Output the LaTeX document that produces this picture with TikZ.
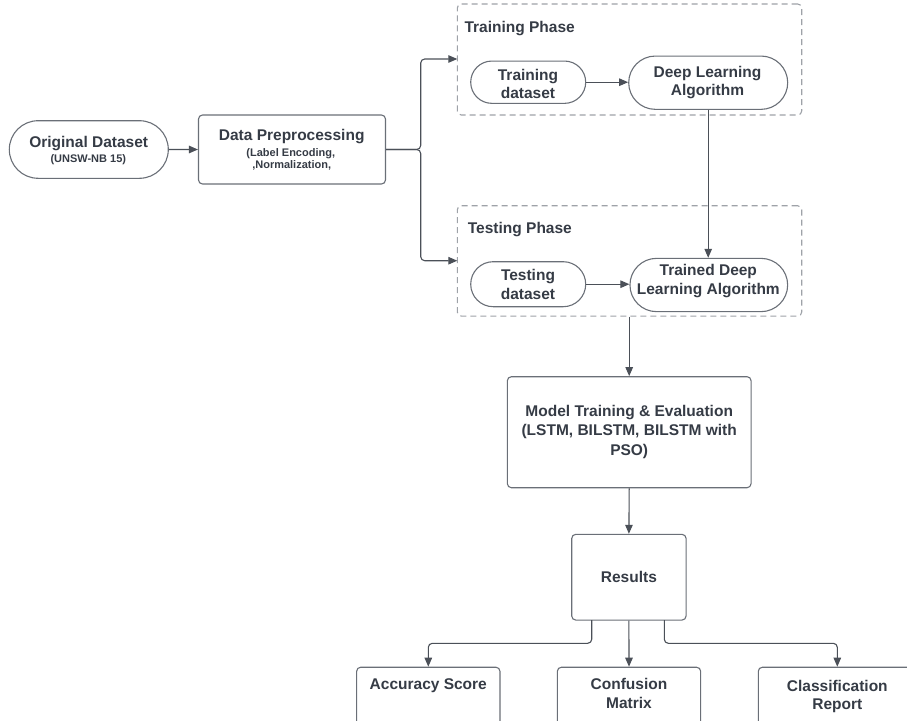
\documentclass[tikz,border=0pt]{standalone}
\usepackage{fontspec}
\setmainfont{Liberation Sans}
\usetikzlibrary{arrows.meta,shapes.misc}
\definecolor{txtc}{HTML}{353B45}
\definecolor{linec}{HTML}{4B5058}
\definecolor{boxc}{HTML}{6A6F77}
\definecolor{dashc}{HTML}{9EA2A8}
\tikzset{
  conn/.style={draw=linec, line width=1.1pt, -{Triangle[length=9pt,width=7.5pt]}},
  plain/.style={draw=linec, line width=1.1pt},
  box/.style={draw=boxc, line width=1.1pt, rounded corners=4pt, inner sep=0pt},
  pill/.style={draw=boxc, line width=1.1pt, rounded rectangle, inner sep=0pt},
  phase/.style={draw=dashc, line width=1.1pt, dash pattern=on 6pt off 4pt, rounded corners=4pt, inner sep=0pt},
  big/.style={text=txtc, inner sep=0pt, anchor=base, font=\fontsize{15.5}{18}\selectfont\bfseries},
  small/.style={text=txtc, inner sep=0pt, anchor=base, font=\fontsize{11}{13}\selectfont\bfseries},
}
\begin{document}
\begin{tikzpicture}[x=1pt,y=-1pt]
\useasboundingbox (0,0) rectangle (907,720);

% source and preprocessing
\node[pill, minimum width=159, minimum height=57.6] (od) at (88.8,149.5) {};
\node[big] (odT) at (88.7,147.5) {Original Dataset};
\node[small] (odS) at (88.3,162.7) {(UNSW-NB 15)};

\node[box, minimum width=187, minimum height=69] (dp) at (292,149.5) {};
\node[big] (dpT) at (291.7,140.7) {Data Preprocessing};
\node[small] (dpS1) at (290.8,156) {(Label Encoding,};
\node[small] (dpS2) at (291.7,168) {,Normalization,};

% phase frames
\node[phase, minimum width=344.4, minimum height=111] (trph) at (629.5,59.5) {};
\node[big, anchor=base west] (trphT) at (464.3,32.3) {Training Phase};
\node[phase, minimum width=344.4, minimum height=110.3] (tsph) at (629.5,260.9) {};
\node[big, anchor=base west] (tsphT) at (467.7,233.3) {Testing Phase};

% training phase
\node[pill, minimum width=115, minimum height=42.3] (td) at (528.2,82.2) {};
\node[big] (tdT1) at (528,80) {Training};
\node[big] (tdT2) at (528,98.7) {dataset};
\node[pill, minimum width=159, minimum height=53.3] (dl) at (708.2,82.7) {};
\node[big] (dlT1) at (707.5,77.3) {Deep Learning};
\node[big] (dlT2) at (707.5,95.7) {Algorithm};

% testing phase
\node[pill, minimum width=115, minimum height=45] (tsd) at (528.2,284.2) {};
\node[big] (tsdT1) at (528,280) {Testing};
\node[big] (tsdT2) at (528,299) {dataset};
\node[pill, minimum width=157.7, minimum height=53.3] (tdl) at (708.8,285) {};
\node[big] (tdlT1) at (708.3,275) {Trained Deep};
\node[big] (tdlT2) at (708.3,294) {Learning Algorithm};

% model and results
\node[box, minimum width=243.7, minimum height=111] (model) at (629.2,432.2) {};
\node[big] (mT1) at (629.2,416) {Model Training \& Evaluation};
\node[big] (mT2) at (629.2,435.3) {(LSTM, BILSTM, BILSTM with};
\node[big] (mT3) at (629.2,455.3) {PSO)};

\node[box, minimum width=114.3, minimum height=85.7] (res) at (628.9,577.2) {};
\node[big] (resT) at (628.9,582.3) {Results};

% outputs (cut at the lower edge)
\node[box, minimum width=143.3, minimum height=90, anchor=north] (acc) at (428.3,666.7) {};
\node[big] (accT) at (428.3,689) {Accuracy Score};
\node[box, minimum width=143.3, minimum height=90, anchor=north] (conf) at (629,666.7) {};
\node[big] (confT1) at (629,689.3) {Confusion};
\node[big] (confT2) at (629,708.3) {Matrix};
\node[box, minimum width=158, minimum height=90, anchor=north] (cls) at (837.3,666.7) {};
\node[big] (clsT1) at (837.3,691.5) {Classification};
\node[big] (clsT2) at (837.3,709.5) {Report};

% connectors
\draw[conn] (od) -- (dp);
\coordinate (br) at (420.7,149.5);
\coordinate (trin) at (457.3,59);
\coordinate (tsin) at (457.3,260.7);
\draw[conn, rounded corners=4pt] (dp.east) -- (br) |- (trin);
\draw[conn, rounded corners=4pt] (dp.east) -- (br) |- (tsin);

\draw[conn] (td.east) -- (td.east -| dl.west);
\draw[conn] (tsd.east) -- (tsd.east -| tdl.west);
\draw[conn] (dl.south) -- (dl.south |- tdl.north);

\draw[conn] (model.north |- tsph.south) -- (model.north);
\draw[conn] (model.south) -- (res.north);

\coordinate (resL) at (591.7,620.0);
\coordinate (resR) at (664.3,620.0);
\coordinate (jL) at (591.7,643.3);
\coordinate (jR) at (664.3,643.3);
\draw[conn, rounded corners=4pt] (resL) -- (jL) -| (acc.north);
\draw[conn] (res.south) -- (conf.north);
\draw[conn, rounded corners=4pt] (resR) -- (jR) -| (cls.north);
\end{tikzpicture}
\end{document}
